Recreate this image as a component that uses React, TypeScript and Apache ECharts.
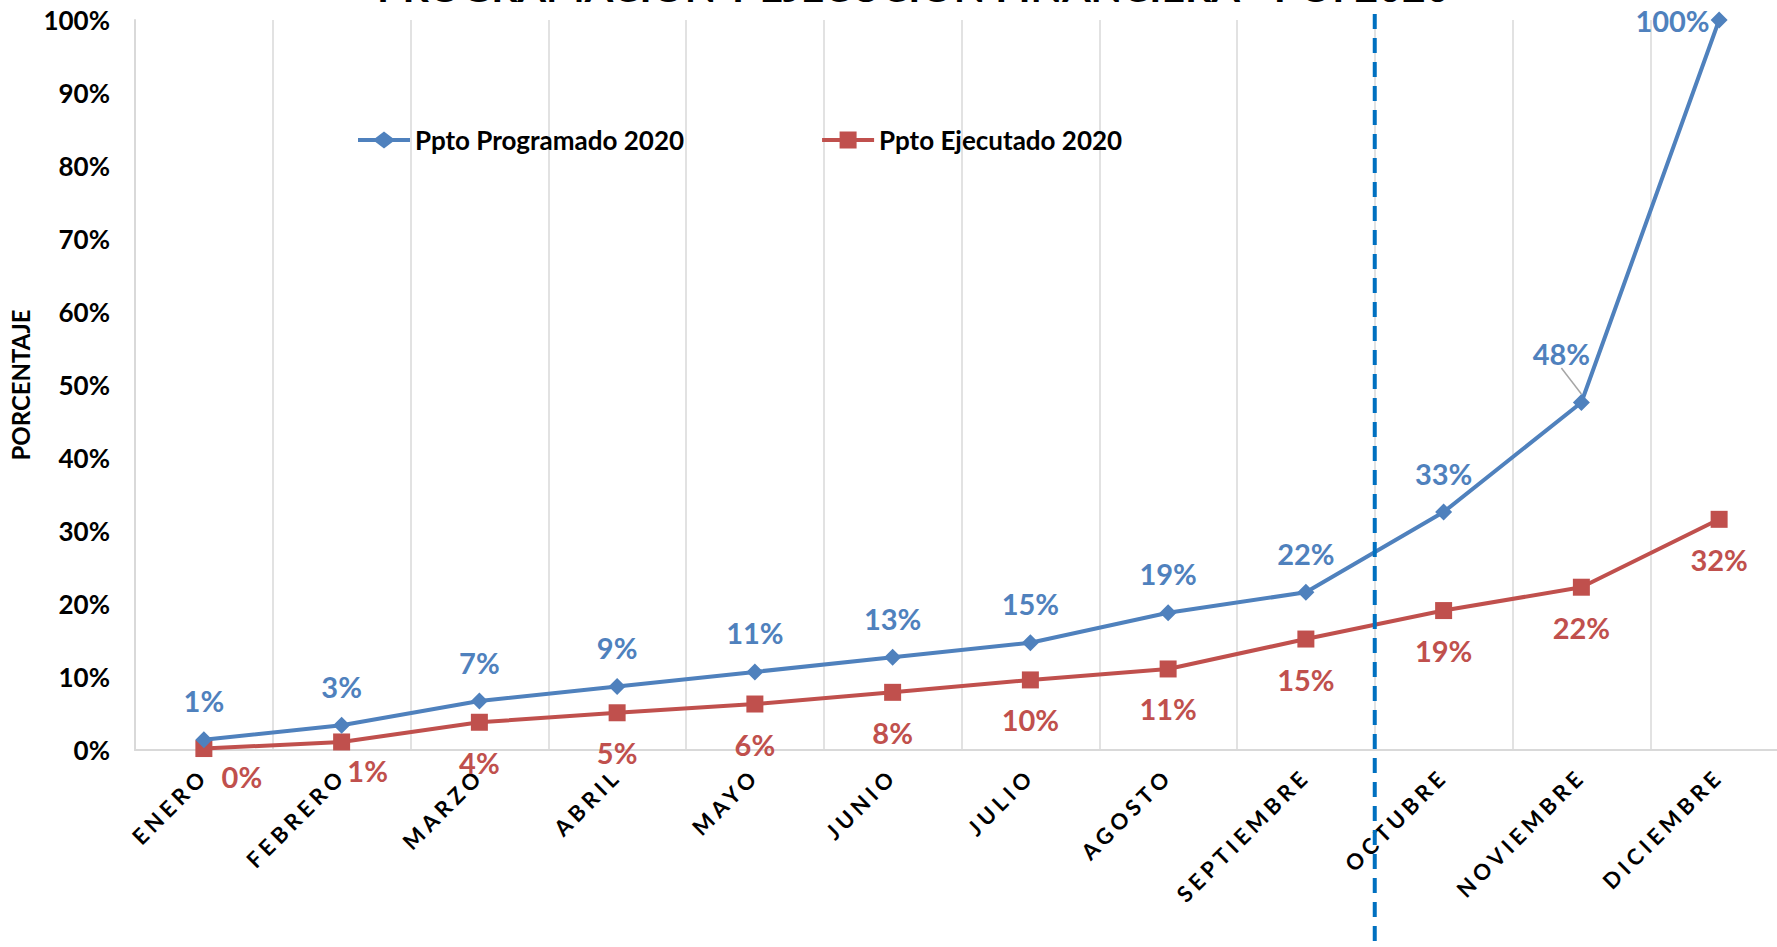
import React, { useEffect, useRef } from "react";
import * as echarts from "echarts";

const TITLE = "PROGRAMACIÓN Y EJECUCIÓN FINANCIERA - POI 2020";
const MONTHS = [
  "ENERO", "FEBRERO", "MARZO", "ABRIL", "MAYO", "JUNIO",
  "JULIO", "AGOSTO", "SEPTIEMBRE", "OCTUBRE", "NOVIEMBRE", "DICIEMBRE",
];
const SERIES_NAMES = ["Ppto Programado 2020", "Ppto Ejecutado 2020"];
const PROGRAMADO = [1.4, 3.4, 6.7, 8.7, 10.7, 12.7, 14.7, 18.8, 21.6, 32.6, 47.6, 100];
const EJECUTADO = [0.2, 1.1, 3.8, 5.1, 6.3, 7.9, 9.6, 11.1, 15.2, 19.1, 22.3, 31.6];
const Y_MIN = 0;
const Y_MAX = 100;
const Y_STEP = 10;
const CUT_AFTER = "SEPTIEMBRE";
const CUT_BEFORE = "OCTUBRE";

const BLUE = "#4F81BD";
const RED = "#C0504D";
const FONT = "Lato";

// legend icons: thick line with the series marker in the middle (52 x 17 box)
const ICON_DIAMOND =
  "path://M0,6.5 L17.5,6.5 L26,0 L34.5,6.5 L52,6.5 L52,10.5 L34.5,10.5 L26,17 L17.5,10.5 L0,10.5 Z";
const ICON_SQUARE =
  "path://M0,6.5 L17.5,6.5 L17.5,0 L34.5,0 L34.5,6.5 L52,6.5 L52,10.5 L34.5,10.5 L34.5,17 L17.5,17 L17.5,10.5 L0,10.5 Z";

export default function App() {
  const ref = useRef<HTMLDivElement>(null);

  useEffect(() => {
    const el = ref.current!;
    const chart = echarts.init(el, null, { renderer: "svg" });

    const fmt = (p: any) => `${Math.round(p.value)}%`;

    const blueData = PROGRAMADO.map((v, i) => {
      if (i === PROGRAMADO.length - 1) {
        return { value: v, label: { position: "left", distance: 1 } };
      }
      if (i === 10) {
        return { value: v, labelLine: { show: true, lineStyle: { color: "#A6A6A6", width: 1.5 } } };
      }
      return v;
    });
    const redData = EJECUTADO.map((v, i) => {
      if (i === 0) return { value: v, label: { offset: [38, -12] } };
      if (i === 1) return { value: v, label: { offset: [26, -11] } };
      return v;
    });

    const option: any = {
      animation: false,
      title: {
        text: TITLE,
        left: 372,
        top: -39,
        textStyle: { fontFamily: FONT, fontWeight: "bold", fontSize: 41, color: "#000" },
      },
      legend: {
        data: [
          { name: SERIES_NAMES[0], icon: ICON_DIAMOND },
          { name: SERIES_NAMES[1], icon: ICON_SQUARE },
        ],
        left: 353,
        top: 122,
        itemWidth: 52,
        itemHeight: 17,
        itemGap: 138,
        textStyle: { fontFamily: FONT, fontWeight: "bold", fontSize: 26, color: "#000" },
      },
      grid: { left: 135, top: 20, width: 1653, height: 730, outerBoundsMode: "none", containLabel: false },
      xAxis: {
        type: "category",
        data: MONTHS,
        boundaryGap: true,
        axisLine: { lineStyle: { color: "#D9D9D9", width: 2 } },
        axisTick: { show: false },
        splitLine: { show: true, lineStyle: { color: "#D9D9D9", width: 1.5 } },
        axisLabel: {
          rotate: 45,
          interval: 0,
          margin: 22,
          fontFamily: FONT,
          fontWeight: "bold",
          fontSize: 22,
          color: "#000",
        },
      },
      yAxis: {
        type: "value",
        min: Y_MIN,
        max: Y_MAX,
        interval: Y_STEP,
        name: "PORCENTAJE",
        nameLocation: "middle",
        nameRotate: 90,
        nameGap: 102,
        nameTextStyle: { fontFamily: FONT, fontWeight: "bold", fontSize: 24, color: "#000" },
        axisLine: { show: true, lineStyle: { color: "#D9D9D9", width: 2 } },
        axisTick: { show: false },
        splitLine: { show: false },
        axisLabel: {
          formatter: "{value}%",
          margin: 25,
          fontFamily: FONT,
          fontWeight: "bold",
          fontSize: 26,
          color: "#000",
        },
      },
      series: [
        {
          name: SERIES_NAMES[0],
          type: "line",
          data: blueData,
          symbol: "diamond",
          symbolSize: 17,
          lineStyle: { color: BLUE, width: 4 },
          itemStyle: { color: BLUE },
          z: 3,
          label: {
            show: true,
            position: "top",
            distance: 16,
            formatter: fmt,
            fontFamily: FONT,
            fontWeight: "bold",
            fontSize: 29,
            color: BLUE,
          },
          labelLayout: (p: any) => (p.dataIndex === 10 ? { dx: -20, dy: -10 } : {}),
        },
        {
          name: SERIES_NAMES[1],
          type: "line",
          data: redData,
          symbol: "rect",
          symbolSize: 17,
          lineStyle: { color: RED, width: 4 },
          itemStyle: { color: RED },
          z: 2,
          label: {
            show: true,
            position: "bottom",
            distance: 17,
            formatter: fmt,
            fontFamily: FONT,
            fontWeight: "bold",
            fontSize: 29,
            color: RED,
          },
        },
      ],
    };

    chart.setOption(option);

    const xa = chart.convertToPixel({ xAxisIndex: 0 }, CUT_AFTER) as number;
    const xb = chart.convertToPixel({ xAxisIndex: 0 }, CUT_BEFORE) as number;
    const cutX = (xa + xb) / 2;
    chart.setOption({
      graphic: [
        {
          type: "line",
          z: 100,
          shape: { x1: cutX, y1: 14, x2: cutX, y2: 947 },
          style: { stroke: "#0070C0", lineWidth: 4, lineDash: [15, 9] },
        },
      ],
    });

    const applySpacing = () => {
      el.querySelectorAll("text").forEach((t) => {
        const s = (t.textContent || "").trim();
        if (MONTHS.includes(s)) t.setAttribute("letter-spacing", "4.5");
      });
    };
    chart.on("finished", applySpacing);
    applySpacing();
    const tm = setTimeout(applySpacing, 50);

    return () => {
      clearTimeout(tm);
      chart.dispose();
    };
  }, []);

  return (
    <div
      ref={ref}
      style={{ position: "absolute", left: 0, top: 0, width: 1777, height: 947, background: "#fff" }}
    />
  );
}
